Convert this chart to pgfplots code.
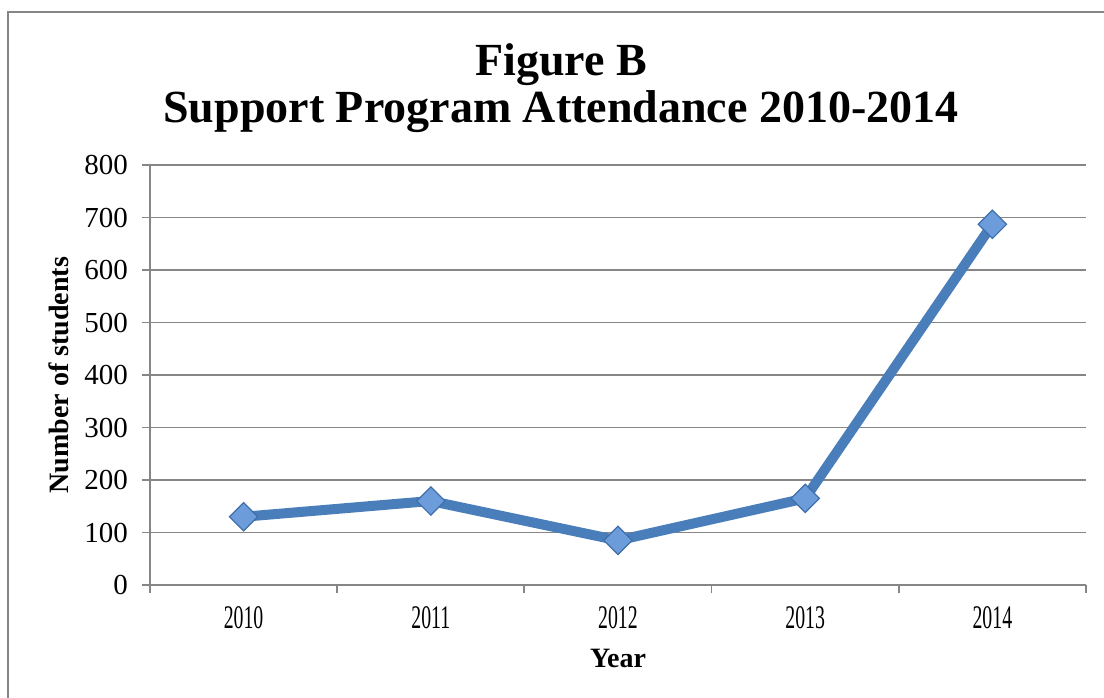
\documentclass[border=0pt]{standalone}
\usepackage{fontspec}
\setmainfont{Liberation Serif}
\newfontfamily\narrowfont[FakeStretch=0.6]{Liberation Serif}
\usepackage{pgfplots}
\pgfplotsset{compat=1.18}
\definecolor{linecol}{RGB}{74,126,187}
\definecolor{markfill}{RGB}{108,157,218}
\definecolor{markdraw}{RGB}{62,110,172}
\definecolor{gridgray}{RGB}{134,134,134}
\begin{document}
\begin{tikzpicture}[x=1pt,y=1pt]
\useasboundingbox (-75,-56) rectangle (477,292.5);
\draw[gridgray, line width=1pt] (-70.75,-60) -- (-70.75,286.5) -- (480,286.5);
\node[anchor=base, font=\fontsize{23}{24}\selectfont\bfseries] at (205.5,254.5) {Figure B};
\node[anchor=base, font=\fontsize{23}{24}\selectfont\bfseries] at (205.5,231) {Support Program Attendance 2010-2014};
\begin{axis}[
  at={(0,0)}, anchor=south west,
  scale only axis, width=468pt, height=210pt,
  xmin=-0.5, xmax=4.5, ymin=0, ymax=800,
  ytick={0,100,...,800},
  xtick={0,1,2,3,4},
  xticklabels={2010,2011,2012,2013,2014},
  minor xtick={-0.5,0.5,1.5,2.5,3.5,4.5},
  axis x line*=bottom, axis y line*=left,
  axis line style={gridgray, line width=0.9pt, -},
  tick align=outside,
  major tick length=4pt, minor tick length=4pt,
  major x tick style={draw=none},
  minor x tick style={gridgray, line width=0.9pt},
  major y tick style={gridgray, line width=0.9pt},
  ymajorgrids, grid style={gridgray, line width=0.9pt},
  /pgf/number format/assume math mode=true,
  yticklabel style={font=\fontsize{14.5}{16}\selectfont, xshift=-3.5pt},
  xticklabel style={font=\fontsize{16.5}{18}\narrowfont\selectfont, yshift=-3pt},
  ylabel={Number of students},
  xlabel={Year},
  ylabel style={font=\fontsize{14}{16}\selectfont\bfseries, at={(axis description cs:-0.0972,0.5)}, anchor=center},
  xlabel style={font=\fontsize{14}{16}\selectfont\bfseries, at={(axis description cs:0.5,-0.174)}, anchor=center},
  clip=false,
]
\addplot[linecol, line width=5pt, mark=square*, mark size=5pt,
  mark options={rotate=45, fill=markfill, draw=markdraw, line width=0.6pt}]
  coordinates {(0,130) (1,160) (2,85) (3,165) (4,687)};
\end{axis}
\end{tikzpicture}
\end{document}
